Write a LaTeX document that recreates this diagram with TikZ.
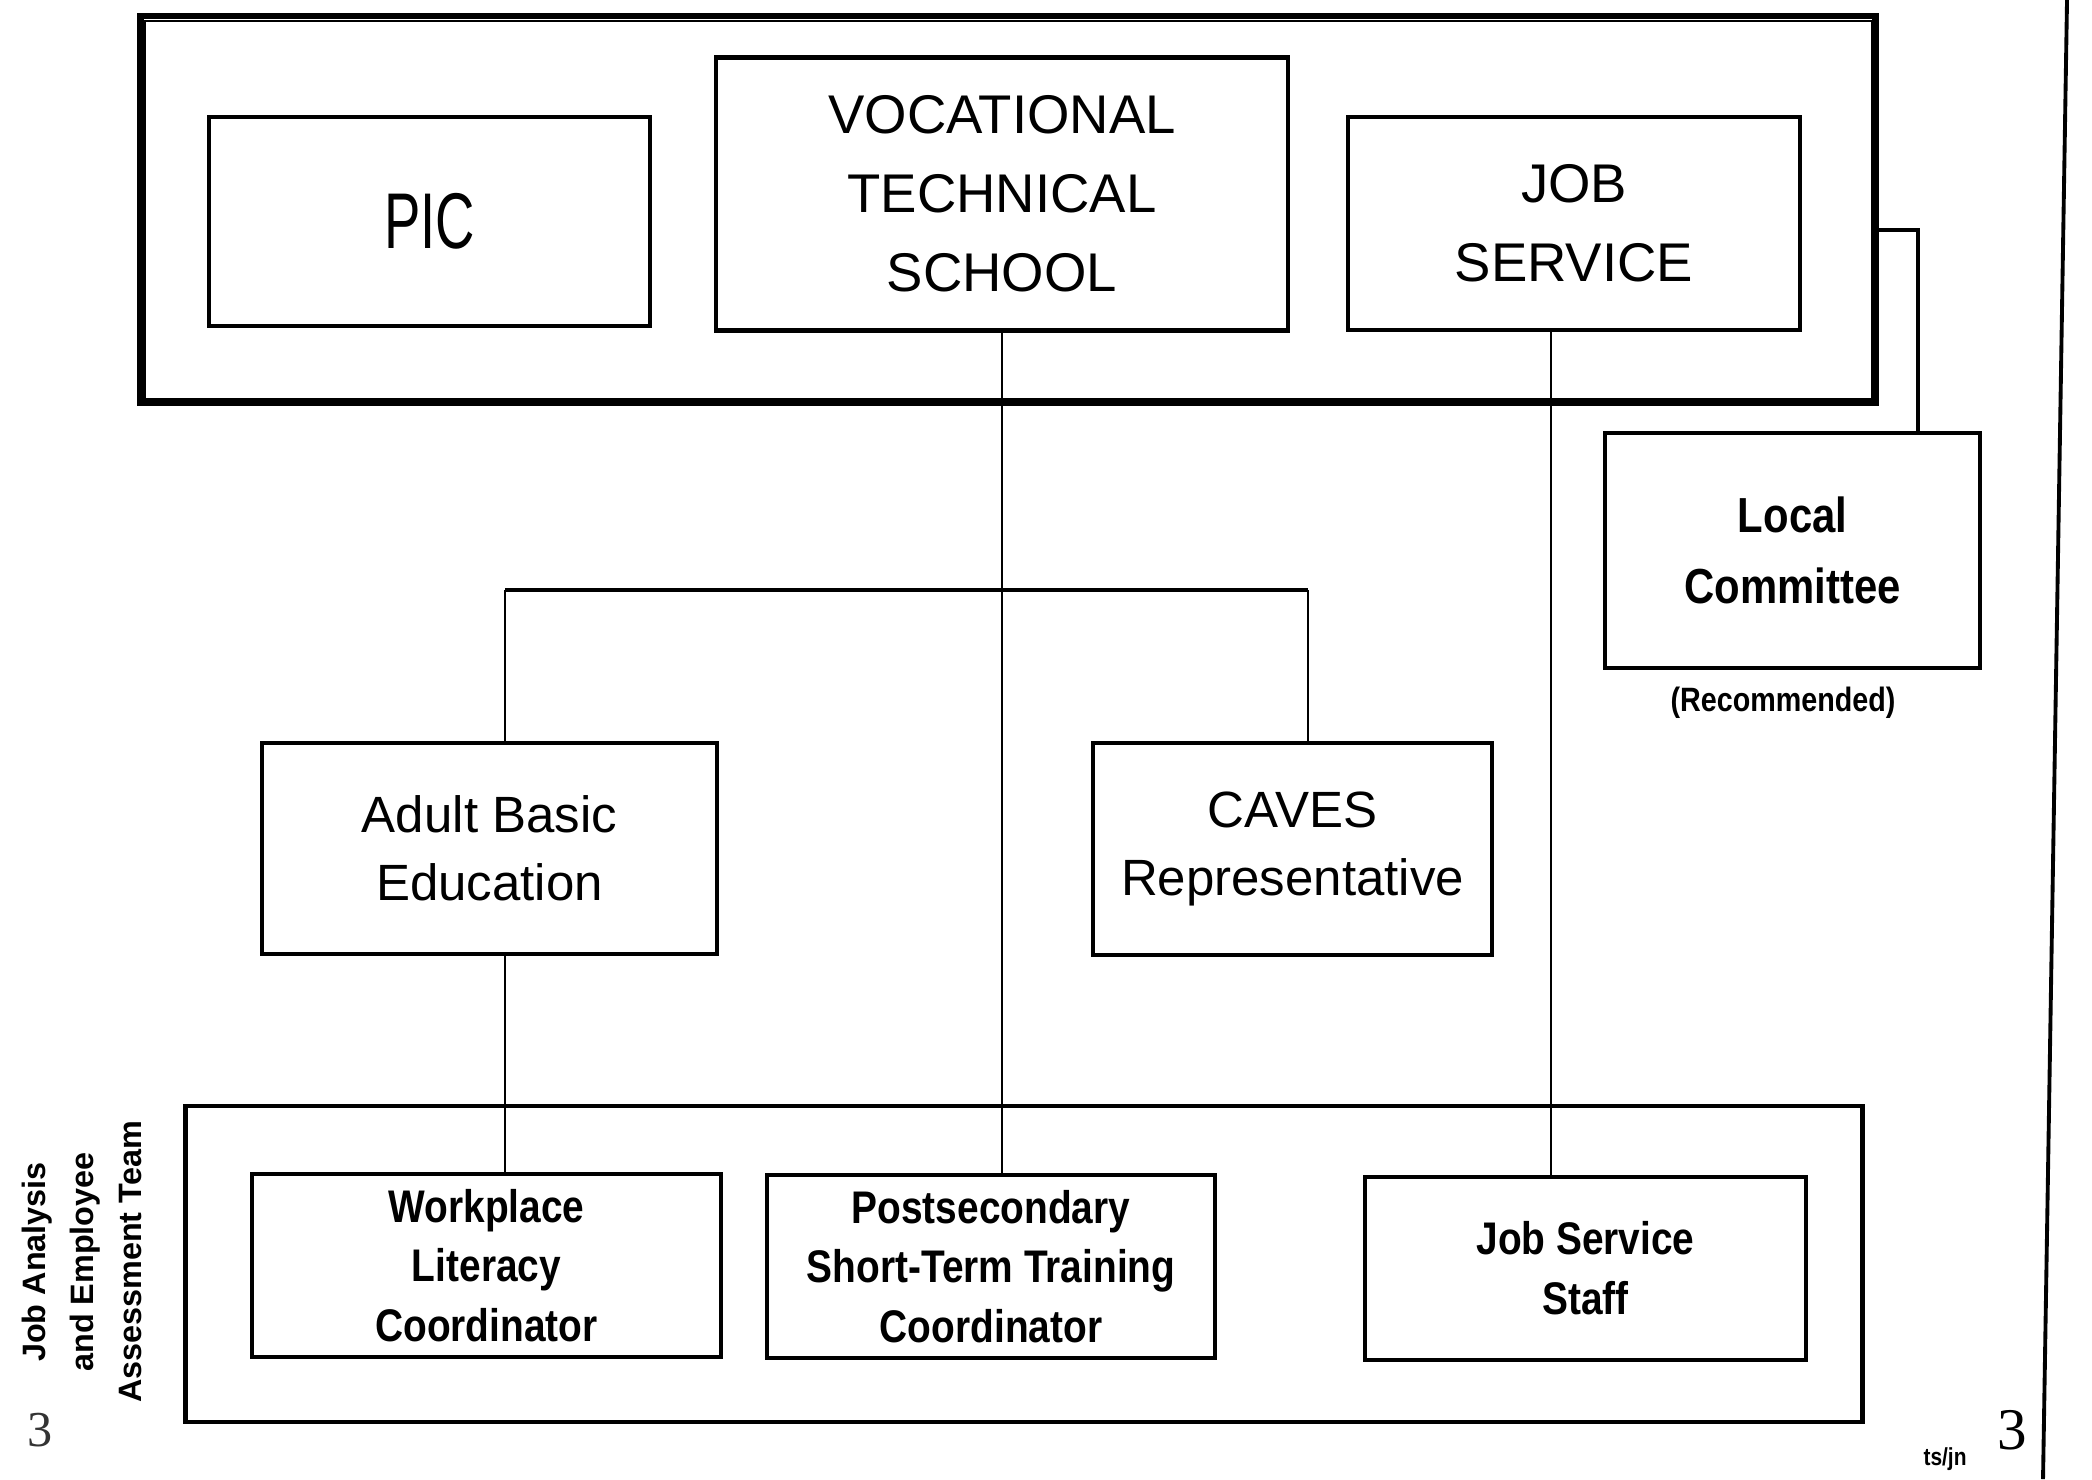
\documentclass[tikz,border=0pt]{standalone}
\usepackage{fontspec}
\setmainfont{Liberation Sans}
\newfontfamily\condsans[FakeStretch=0.85]{Liberation Sans}
\newfontfamily\numserif{Liberation Serif}
\begin{document}
\begin{tikzpicture}[x=0.01cm, y=-0.01cm,
  box/.style={draw, line width=1.2pt, inner sep=0pt, align=center},
  toplabel/.style={font=\fontsize{15.5}{22.5}\selectfont},
  midlabel/.style={font=\fontsize{14.5}{19.3}\selectfont},
  lowlabel/.style={font=\condsans\bfseries\fontsize{13}{17}\selectfont},
  link/.style={line width=0.7pt},
]
\useasboundingbox (0,0) rectangle (2092,1479);

% partner frame (double border)
\node[draw, line width=1.8pt, minimum width=17.34cm, minimum height=3.87cm] (topframe) at (1008,209.5) {};
\draw[line width=0.6pt] ([shift={(8,8)}]topframe.north west) rectangle ([shift={(-7,-7)}]topframe.south east);

% partner organisations
\node[box, toplabel, minimum width=4.41cm, minimum height=2.09cm] (pic) at (429.5,221.5) {\scalebox{1}[1.45]{PIC}};
\node[box, toplabel, minimum width=5.72cm, minimum height=2.73cm] (vts) at (1002,194) {VOCATIONAL\\TECHNICAL\\SCHOOL};
\node[box, toplabel, minimum width=4.52cm, minimum height=2.13cm] (js) at (1574,223.5) {JOB\\SERVICE};

% local committee
\node[box, font=\condsans\bfseries\fontsize{14}{20.2}\selectfont, minimum width=3.75cm, minimum height=2.35cm] (lc) at (1792.5,550.5) {Local\\Committee};
\node[font=\condsans\bfseries\fontsize{9.6}{11}\selectfont, anchor=center] (rec) at (1783,703) {(Recommended)};
\coordinate (lck) at (1918,230);
\draw[line width=1pt] (topframe.east |- lck) -- (lck) -- (lck |- lc.north);

% second level
\node[box, midlabel, minimum width=4.55cm, minimum height=2.11cm] (abe) at (489.5,848.5) {Adult Basic\\Education};
\node[box, midlabel, minimum width=3.99cm, minimum height=2.12cm] (caves) at (1292.5,849) {CAVES\\Representative};

% assessment team frame
\node[draw, line width=1.3pt, minimum width=16.76cm, minimum height=3.16cm] (team) at (1024,1264) {};
\node[box, lowlabel, minimum width=4.69cm, minimum height=1.83cm] (wlc) at (486.5,1265.5) {Workplace\\Literacy\\Coordinator};
\node[box, lowlabel, minimum width=4.48cm, minimum height=1.83cm] (pst) at (991,1266.5) {Postsecondary\\Short-Term Training\\Coordinator};
\node[box, lowlabel, minimum width=4.41cm, minimum height=1.83cm] (jss) at (1585.5,1268.5) {Job Service\\Staff};
\node[rotate=90, align=center, font=\bfseries\fontsize{9.2}{13.7}\selectfont] (teamlabel) at (82,1262) {Job Analysis\\and Employee\\Assessment Team};

% connectors
\coordinate (brL) at (505,590);
\coordinate (brR) at (1308,590);
\coordinate (jsx) at (1551,0);
\draw[link] (vts.south) -- (vts.south |- pst.north);
\draw[link] (abe.north -| brL) -- (brL);
\draw[line width=1.3pt] (brL) -- (brR);
\draw[link] (brR) -- (caves.north -| brR);
\draw[link] (abe.south -| brL) -- (wlc.north -| brL);
\draw[link] (js.south -| jsx) -- (jss.north -| jsx);

% page marks
\node[font=\numserif\fontsize{14.3}{16}\selectfont, text=black!80] (pgl) at (40,1430) {3};
\node[font=\numserif\fontsize{16.8}{18}\selectfont] (pgr) at (2012,1430) {3};
\node[font=\condsans\bfseries\fontsize{7}{8}\selectfont] (initials) at (1945,1459) {ts/jn};
\draw[line width=1.1pt] (2067,0) -- (2043,1479);
\end{tikzpicture}
\end{document}
